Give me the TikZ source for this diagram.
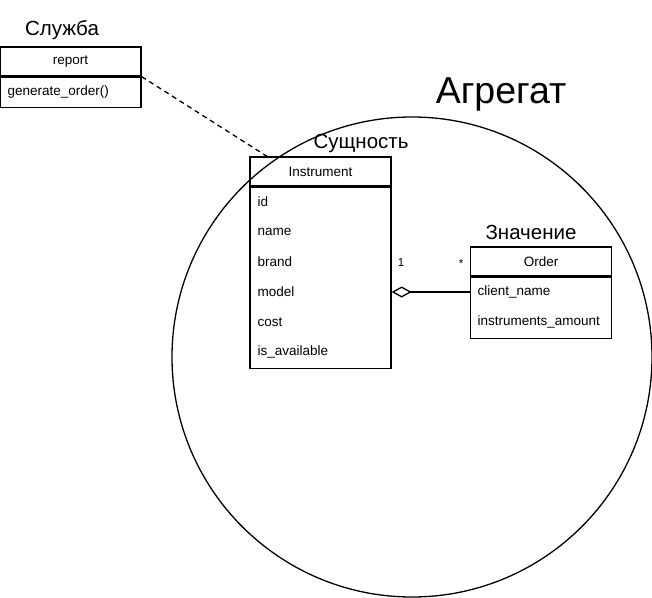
\documentclass[tikz,border=0pt]{standalone}
\usepackage{fontspec}
\setmainfont{Liberation Sans}
\usetikzlibrary{arrows.meta, positioning}

\begin{document}
\begin{tikzpicture}[x=1pt, y=-1pt, line width=1.3pt,
  hdr/.style={draw, minimum width=141pt, minimum height=29pt, inner sep=0pt, font=\fontsize{13.5}{15}\selectfont},
  body/.style={draw, minimum width=141pt, inner sep=0pt, anchor=north},
  fld/.style={anchor=west, inner sep=0pt, font=\fontsize{13.5}{15}\selectfont},
  lbl/.style={inner sep=0pt, font=\fontsize{20.5}{22}\selectfont},
  mult/.style={inner sep=0pt, font=\fontsize{11.5}{13}\selectfont}]
\useasboundingbox (0,0) rectangle (652,597);
% aggregate boundary
\node[draw, circle, minimum size=480pt, inner sep=0pt] (agg) at (412,357) {};
\node[inner sep=0pt, font=\fontsize{37.5}{40}\selectfont] (agglbl) at (501,94) {Агрегат};
% service
\node[lbl] (svclbl) at (62,30) {Служба};
\node[hdr] (svc) at (70.5,61.5) {report};
\node[body, minimum height=30pt] (svcbody) at (svc.south) {};
\node[fld] (s1) at (7,92) {generate\_order()};
% entity
\node[lbl] (entlbl) at (361,143) {Сущность};
\node[hdr] (instr) at (320.5,171.5) {Instrument};
\node[body, minimum height=181pt] (instrbody) at (instr.south) {};
\foreach \f [count=\i] in {id,name,brand,model,cost,is\_available}
  \node[fld] (f\i) at (257,{172+30*\i}) {\f};
% value object
\node[lbl] (vallbl) at (531,232) {Значение};
\node[hdr] (ord) at (541,261.5) {Order};
\node[body, minimum height=61pt] (ordbody) at (ord.south) {};
\foreach \f [count=\i] in {client\_name,instruments\_amount}
  \node[fld] (o\i) at (477,{262+30*\i}) {\f};
% links
\coordinate (svcend) at (268,157);
\draw[dash pattern=on 5pt off 4pt] (svc.south east) -- (svcend);
\draw[{Diamond[open,length=20pt,width=11pt]}-] (instrbody.east |- f4) -- (ordbody.west |- o1);
\node[mult] (m1) at (401,263) {1};
\node[mult] (m2) at (461,264) {*};
\end{tikzpicture}
\end{document}
